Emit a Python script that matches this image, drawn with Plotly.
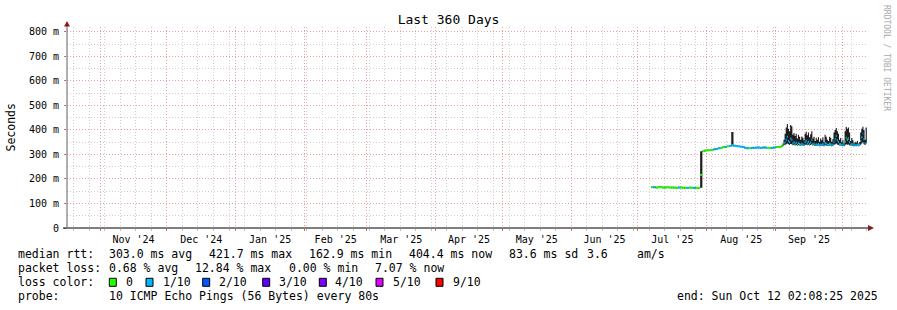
import pandas as pd
import plotly.graph_objects as go

# ---------------- data ----------------
START = "2024-10-17 02:08:25"
END = "2025-10-12 02:08:25"

# daily samples 2025-07-07 .. 2025-08-31 (median rtt, ms)
med_a = [166, 166, 165, 166, 166, 165, 165, 166, 165, 165, 165, 164, 165, 165, 164, 164, 164, 165, 164, 164, 164, 164,
         217, 313, 316,
         317, 318, 318, 321, 322, 325, 326, 330, 331, 333, 335, 338, 336, 334, 333, 332, 330, 326, 325, 326, 327, 327,
         328, 328, 327, 328, 328, 327, 326, 327, 328]
hi_a = [169, 169, 168, 169, 169, 168, 168, 169, 168, 168, 168, 167, 168, 168, 167, 167, 167, 168, 167, 167, 167, 167,
        313, 316, 319,
        320, 321, 321, 324, 325, 328, 329, 333, 334, 336, 338, 392, 339, 337, 336, 335, 333, 329, 328, 329, 330, 330,
        331, 331, 330, 331, 331, 330, 329, 330, 331]
lo_a = [163, 163, 162, 163, 163, 162, 162, 163, 162, 162, 162, 161, 162, 162, 161, 161, 161, 162, 161, 161, 161, 161,
        164, 310, 313,
        314, 315, 315, 318, 319, 322, 323, 327, 328, 330, 332, 334, 333, 331, 330, 329, 327, 323, 322, 323, 324, 324,
        325, 325, 324, 325, 325, 324, 323, 324, 325]
loss_a = [0, 1, 0, 0, 0, 0, 0, 0, 0, 0, 0, 0, 1, 0, 0, 0, 1, 0, 0, 1, 0, 0,
          0, 0, 0,
          0, 0, 0, 1, 1, 1, 0, 0, 1, 0, 1, 1, 1, 1, 1, 1, 1, 1, 1, 0, 1, 1, 1, 1, 1, 1, 1, 0, 0, 1, 1]

# 12-hourly samples 2025-09-01 .. 2025-10-12
med_b = [329, 330, 330, 331, 331, 333, 338, 345, 350, 360,
         372, 355, 350, 365, 360, 345, 350, 342, 348, 340,
         346, 343, 340, 344, 341, 339, 350, 356, 345, 352,
         343, 348, 360, 342, 344, 339, 342, 340, 343, 338,
         341, 339, 343, 338, 347, 344, 340, 339, 344, 342,
         338, 341, 352, 362, 375, 358, 350, 342, 343, 339,
         341, 338, 352, 368, 360, 365, 350, 340, 343, 341,
         338, 339, 338, 340, 338, 340, 355, 370, 385, 362,
         345, 404, 404]
hi_b = [332, 333, 333, 334, 335, 338, 345, 360, 385, 410,
        424, 405, 395, 420, 415, 380, 388, 375, 385, 365,
        380, 372, 360, 373, 368, 358, 385, 393, 378, 390,
        370, 382, 395, 365, 372, 355, 368, 360, 370, 352,
        365, 358, 370, 350, 380, 372, 360, 355, 372, 368,
        352, 362, 390, 400, 408, 395, 385, 360, 367, 350,
        360, 345, 395, 413, 405, 410, 390, 355, 367, 358,
        345, 352, 348, 355, 345, 350, 390, 405, 413, 400,
        360, 410, 408]
lo_b = [326, 327, 327, 328, 328, 330, 334, 338, 340, 342,
        345, 342, 340, 343, 342, 338, 340, 337, 339, 336,
        338, 337, 336, 338, 337, 335, 339, 341, 338, 340,
        337, 339, 342, 337, 338, 335, 337, 336, 337, 334,
        336, 335, 337, 334, 338, 337, 335, 335, 337, 336,
        334, 336, 340, 342, 345, 341, 339, 337, 337, 335,
        336, 334, 338, 342, 340, 341, 338, 336, 337, 336,
        334, 335, 334, 336, 334, 336, 340, 345, 350, 342,
        339, 345, 350]
loss_b = [0, 0, 0, 0, 0, 0, 0, 1, 1, 1,
          1, 1, 1, 1, 1, 1, 1, 1, 1, 0,
          1, 1, 1, 1, 1, 1, 1, 1, 1, 1,
          1, 1, 1, 0, 1, 1, 1, 1, 1, 1,
          1, 1, 1, 1, 1, 1, 1, 1, 1, 0,
          1, 1, 1, 1, 1, 1, 1, 1, 1, 1,
          1, 1, 1, 1, 0, 1, 1, 1, 1, 1,
          1, 1, 1, 1, 1, 1, 1, 1, 2, 1,
          1, 2, 2]

loss_levels = [0, 1, 2, 3, 4, 5, 9]
loss_labels = ["0", "1/10", "2/10", "3/10", "4/10", "5/10", "9/10"]
loss_colors = ["#26ff00", "#00b8ff", "#0059ff", "#5e00ff", "#7e00ff", "#dd00ff", "#ff0000"]

y_ticks = [0, 100, 200, 300, 400, 500, 600, 700, 800]
y_ticktext = ["0", "100 m", "200 m", "300 m", "400 m", "500 m", "600 m", "700 m", "800 m"]

title = "Last 360 Days"
stats_rtt = [("median rtt:", 16), ("303.0 ms avg", 107.3), ("421.7 ms max", 207.3), ("162.9 ms min", 307.3),
             ("404.4 ms now", 406.7), ("83.6 ms sd", 507.3), ("3.6", 585), ("am/s", 635)]
stats_loss = [("packet loss:", 16), ("0.68 % avg", 107.3), ("12.84 % max", 193.3), ("0.00 % min", 286.7),
              ("7.07 % now", 372.7)]
probe_text = "10 ICMP Echo Pings (56 Bytes) every 80s"
end_text = "end: Sun Oct 12 02:08:25 2025"

# ---------------- build ----------------
dates_a = pd.date_range("2025-07-07", "2025-08-31", freq="D")
dates_b = pd.date_range("2025-09-01", "2025-10-12", freq="12h")
t_all = list(dates_a) + list(dates_b)
med_all = med_a + med_b
hi_all = hi_a + hi_b
lo_all = lo_a + lo_b
loss_all = loss_a + loss_b
t_next = t_all[1:] + [pd.Timestamp(END)]

FONT = "DejaVu Sans Mono"
W, H = 897, 310
L, R, T, B = 67, 867, 27, 228


def px(x):
    return (x - L) / (R - L)


def py(y):
    return (B - y) / (B - T)


fig = go.Figure()
SMOKE = "#1e1e1e"
fig.add_trace(go.Scatter(x=t_all, y=lo_all, mode="lines", line=dict(width=0, shape="hv", color=SMOKE),
                         hoverinfo="skip", showlegend=False))
fig.add_trace(go.Scatter(x=t_all, y=hi_all, mode="lines", line=dict(width=0, shape="hv", color=SMOKE),
                         fill="tonexty", fillcolor=SMOKE, hoverinfo="skip", showlegend=False))

for lvl, col in zip(loss_levels, loss_colors):
    xs, ys = [], []
    for t0, t1, m, l in zip(t_all, t_next, med_all, loss_all):
        if l == lvl:
            xs += [t0, t1, None]
            ys += [m, m, None]
    if xs:
        fig.add_trace(go.Scatter(x=xs, y=ys, mode="lines", line=dict(width=2, color=col),
                                 hoverinfo="skip", showlegend=False))

MAJ = "#eba0a0"
MIN = "#cfcfcf"
DOT = "1px,2px"

fig.update_xaxes(type="date", range=[START, END], showgrid=True, gridcolor=MAJ, griddash=DOT, gridwidth=1,
                 dtick="M1", tick0="2024-11-01", ticklabelmode="period", tickformat="%b '%y",
                 ticks="outside", ticklen=2, tickcolor="#e06060",
                 tickfont=dict(family=FONT, size=10, color="#000"),
                 minor=dict(dtick=7 * 86400000, tick0="2024-10-20", showgrid=True, gridcolor=MIN,
                            griddash=DOT, ticks="outside", ticklen=2, tickcolor="#c0c0c0"),
                 showline=False, zeroline=False, fixedrange=True)
fig.update_yaxes(range=[0, 820], tickvals=y_ticks, ticktext=y_ticktext, showgrid=True, gridcolor=MAJ,
                 griddash=DOT, ticks="outside", ticklen=2, tickcolor="#e06060",
                 tickfont=dict(family=FONT, size=10, color="#000"), ticklabelstandoff=3,
                 minor=dict(dtick=50, showgrid=True, gridcolor=MIN, griddash=DOT),
                 showline=False, zeroline=False, fixedrange=True)

shapes = []
# axis lines
shapes.append(dict(type="line", xref="paper", yref="paper", x0=px(63), x1=px(869), y0=0, y1=0,
                   line=dict(color="#000000", width=1)))
shapes.append(dict(type="line", xref="paper", yref="paper", x0=0, x1=0, y0=0, y1=py(24),
                   line=dict(color="#606060", width=1)))
ARROW = "#8b1a1a"
shapes.append(dict(type="path", xref="paper", yref="paper",
                   path=f"M {px(64)} {py(26.5)} L {px(70)} {py(26.5)} L {px(67)} {py(21)} Z",
                   fillcolor=ARROW, line=dict(color=ARROW, width=0)))
shapes.append(dict(type="path", xref="paper", yref="paper",
                   path=f"M {px(868)} {py(225)} L {px(868)} {py(231)} L {px(874)} {py(228)} Z",
                   fillcolor=ARROW, line=dict(color=ARROW, width=0)))

ann = []


def txt(s, x, y, size=11.5, color="#000", xanchor="left", angle=0):
    ann.append(dict(text=s, xref="paper", yref="paper", x=px(x), y=py(y), xanchor=xanchor, yanchor="middle",
                    showarrow=False, textangle=angle, font=dict(family=FONT, size=size, color=color)))


txt("Seconds", 10, 127.5, size=11.5, xanchor="center", angle=-90)
txt("RRDTOOL / TOBI OETIKER", 886, 58, size=8, color="#a8a8a8", xanchor="center", angle=90)

Y1, Y2, Y3, Y4 = 254.3, 268.3, 282.3, 296
for s, x in stats_rtt:
    txt(s, x, Y1)
for s, x in stats_loss:
    txt(s, x, Y2)
txt("loss color:", 16, Y3)
box_x = [109.3, 146, 202.7, 262.7, 319.3, 376, 436]
lab_x = [124, 160.7, 217.3, 276.7, 333.3, 390.7, 450.7]
for bx, lx, lab, col in zip(box_x, lab_x, loss_labels, loss_colors):
    shapes.append(dict(type="rect", xref="paper", yref="paper", x0=px(bx), x1=px(bx + 7),
                       y0=py(Y3 + 4), y1=py(Y3 - 4), fillcolor=col, line=dict(color="#000", width=1)))
    txt(lab, lx, Y3)
txt("probe:", 16, Y4)
txt(probe_text, 107.3, Y4)
txt(end_text, 880, Y4, xanchor="right")

fig.update_layout(width=W, height=H, margin=dict(l=L, r=W - R, t=T, b=H - B),
                  paper_bgcolor="white", plot_bgcolor="white", shapes=shapes, annotations=ann,
                  title=dict(text=title, x=0.5, xref="container", xanchor="center", y=1 - 19 / H,
                             yref="container", yanchor="middle", font=dict(family=FONT, size=13, color="#000")),
                  showlegend=False)

fig.write_html("out.html", config={"displayModeBar": False, "staticPlot": True})
